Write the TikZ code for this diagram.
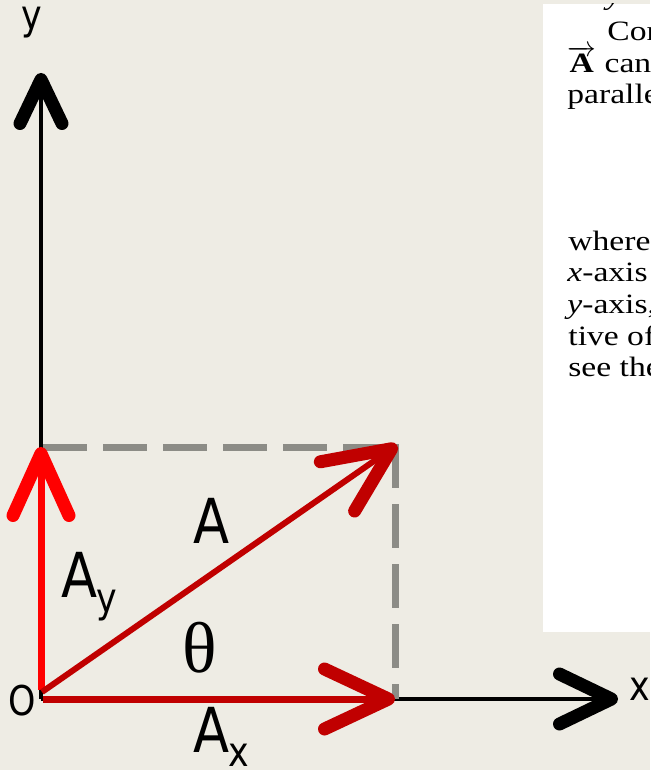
\documentclass[tikz,border=0pt]{standalone}
\usepackage{fontspec}
\setmainfont[FakeStretch=0.85]{DejaVu Sans}
\newfontfamily\bookfont[FakeStretch=1.2]{Liberation Serif}
\newfontfamily\greekfont{Liberation Serif}
\usetikzlibrary{arrows.meta}
\definecolor{bg}{RGB}{238,236,228}
\definecolor{darkred}{RGB}{192,0,0}
\definecolor{brightred}{RGB}{255,0,0}
\definecolor{dashgray}{RGB}{140,140,134}
\begin{document}
\begin{tikzpicture}[x=0.5pt,y=-0.5pt,
  axisline/.style={line width=2pt,black},
  vec/.style={line width=3.5pt},
  barb/.style args={#1/#2}{-{Straight Barb[length=#1pt,width=#2pt,line width=6.5pt,round]}},
  guide/.style={line width=3.5pt,dashgray,dash pattern=on 22pt off 8pt},
  axislabel/.style={font=\fontsize{20.5}{24}\selectfont,inner sep=0pt},
  veclabel/.style={font=\fontsize{31}{36}\selectfont,inner sep=0pt},
  booktext/.style={font=\bookfont\fontsize{14}{16}\selectfont,anchor=base west,inner sep=0pt},
]
\useasboundingbox (0,0) rectangle (650,770);
\fill[bg] (0,0) rectangle (650,770);
\fill[white] (543,4) rectangle (650,632);

\coordinate (O) at (41,699);
\coordinate (Xend) at (618,699);
\coordinate (Yend) at (41,73);
\coordinate (Ax0) at (43,699);
\coordinate (AxTip) at (395,699);
\coordinate (Ay0) at (41,690);
\coordinate (AyTip) at (41,447);
\coordinate (A0) at (42,692);
\coordinate (ATip) at (397,445);
\coordinate (Cy) at (43,447);
\coordinate (C) at (395,447);
\coordinate (Cv) at (395,444);
\coordinate (Cx) at (395,699);

\draw[axisline,barb=22/21] (O) -- (Yend);
\draw[axisline,barb=26/25] (O) -- (Xend);
\draw[guide] (Cy) -- (C);
\draw[guide] (Cv) -- (Cx);
\draw[vec,darkred,barb=32/30] (Ax0) -- (AxTip);
\draw[vec,brightred,barb=31/28] (Ay0) -- (AyTip);
\draw[vec,darkred,line width=3pt,barb=33/30] (A0) -- (ATip);

\node[axislabel,anchor=base] (ylab) at (32,30) {y};
\node[axislabel,anchor=base west] (xlab) at (629,700) {x};
\node[axislabel,anchor=base] (olab) at (22,715) {O};
\node[veclabel,anchor=base] (alab) at (212,543) {A};
\node[veclabel,anchor=base] (aylab) at (80,597) {A};
\node[axislabel,anchor=base west] (aysub) at (96,612) {y};
\node[veclabel,anchor=base] (axlab) at (212,752) {A};
\node[axislabel,anchor=base west] (axsub) at (228,766) {x};
\node[font=\greekfont\fontsize{36}{40}\selectfont,inner sep=0pt] (theta) at (200,648) {θ};

\begin{scope}
\clip (543,4) rectangle (650,632);
\node[booktext] (t0) at (606,5) {\itshape y};
\node[booktext] (t1) at (607,41) {Consider};
\node[booktext] (t2) at (567,73) {$\overrightarrow{\textbf{A}}$ can be};
\node[booktext] (t3) at (567,104) {parallel to};
\node[booktext] (t4) at (568,250) {where};
\node[booktext] (t5) at (567,281) {\textit{x}-axis};
\node[booktext] (t6) at (567,313) {\textit{y}-axis,};
\node[booktext] (t7) at (568,345) {tive of};
\node[booktext] (t8) at (568,376) {see the};
\end{scope}
\end{tikzpicture}
\end{document}
